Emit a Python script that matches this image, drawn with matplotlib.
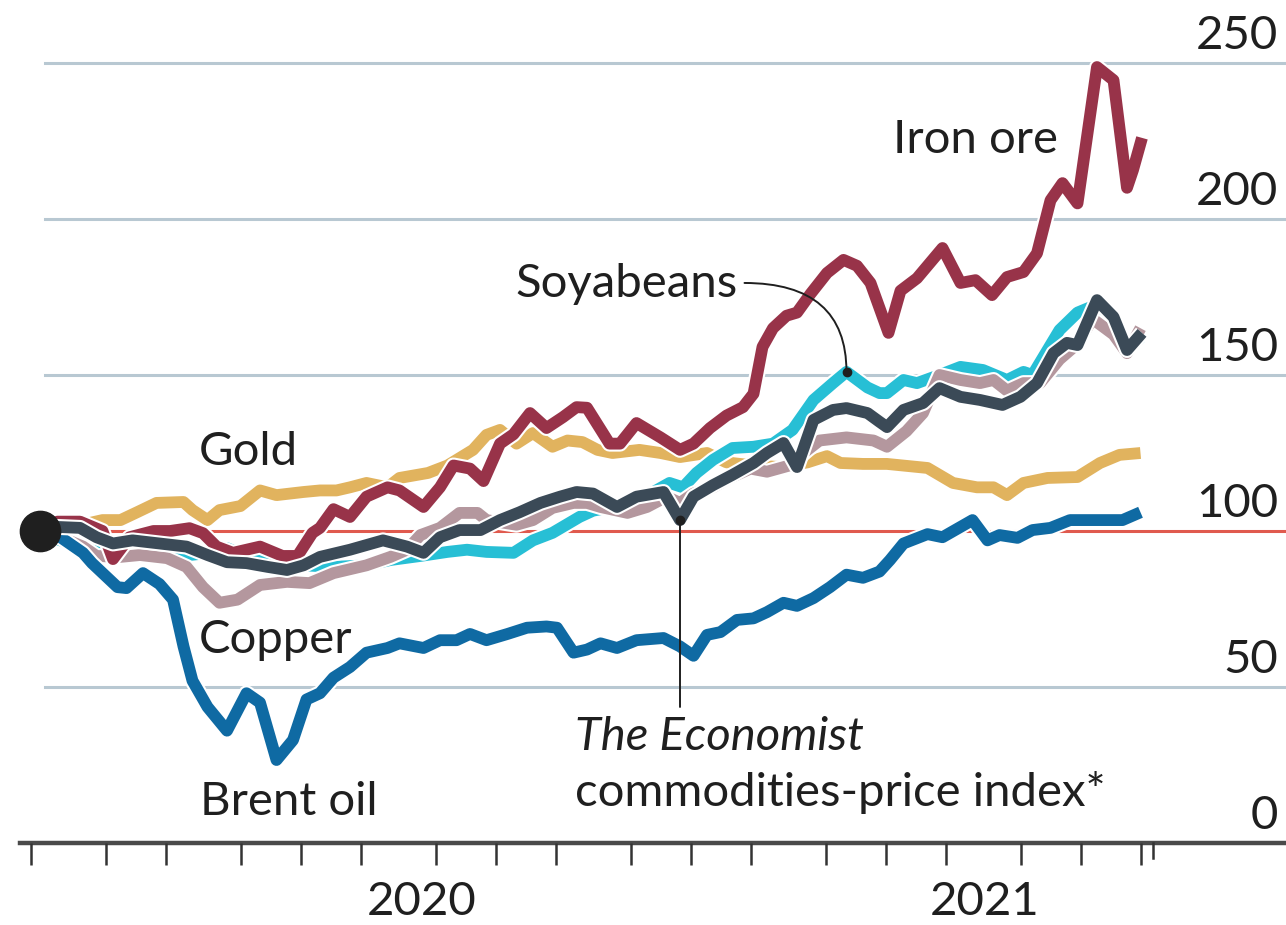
import matplotlib.pyplot as plt
from matplotlib import patheffects as pe
from matplotlib import transforms

# weeks since the start of January 2020, rebased to 100 at the first reading
brent_weeks = [0.6, 2.0, 3.5, 4.1, 5.8, 6.4, 7.5, 8.6, 9.5, 10.2, 10.8, 11.8, 13.1, 14.4, 15.3,
               16.4, 17.5, 18.4, 19.3, 20.2, 21.3, 22.4, 23.8, 24.6, 26.2, 27.3, 28.4, 29.3,
               30.4, 31.8, 33.1, 34.4, 35.1, 36.2, 37.1, 38.0, 39.1, 40.4, 42.2, 43.3, 44.2,
               45.1, 46.0, 47.1, 48.2, 49.1, 50.2, 51.1, 52.2, 53.3, 54.4, 55.5, 56.6, 57.3,
               58.2, 59.8, 60.8, 62.8, 63.8, 64.6, 65.8, 66.8, 68.0, 69.3, 70.8, 72.8, 74.0]
brent_vals = [100, 98, 93, 89.7, 82, 81.7, 86.5, 83, 78, 63, 52, 43.6, 36, 48, 45,
              26.6, 33, 46, 48, 53, 56.4, 61, 62.5, 64, 62.5, 65, 65, 67,
              65, 67, 69, 69.4, 69, 61, 62, 64, 62.5, 65, 65.7, 63, 60,
              66.7, 67.6, 71.5, 72, 74, 77, 76, 78.5, 82, 86, 85, 87, 90.7,
              96, 99, 98, 103.5, 97, 98.7, 97.8, 100.3, 101, 103.5, 103.5, 103.5, 106]

gold_weeks = [0.6, 2.5, 4.8, 6.0, 7.1, 8.4, 10.2, 10.8, 11.8, 12.6, 14.0, 15.3, 16.4, 18.2,
              19.3, 20.4, 21.3, 22.4, 23.8, 24.6, 26.5, 27.8, 29.5, 30.4, 31.3, 32.4, 33.5,
              34.8, 35.8, 36.8, 37.8, 38.8, 40.6, 42.0, 43.3, 45.1, 46.4, 48.2, 50.0, 51.8,
              53.1, 54.0, 55.5, 57.1, 59.8, 61.5, 63.1, 64.2, 65.1, 66.2, 67.8, 69.8, 71.3,
              72.6, 74.0]
gold_vals = [100, 101, 103.5, 103.5, 106, 109, 109.3, 106.7, 103.5, 106.7, 108, 113, 111.5, 112.5,
             113, 113, 114, 115.4, 114, 117, 118.6, 121, 126, 130.8, 132.4, 128, 131.4,
             127, 129, 128.5, 126, 125, 126, 125, 123.7, 125, 122, 121, 120.5, 122,
             124, 121.8, 121.5, 121.5, 120.2, 115.4, 114, 114, 111.5, 115.4, 117, 117.3, 121.8,
             124.4, 125]

copper_weeks = [0.6, 2.0, 3.5, 4.4, 6.0, 7.3, 9.1, 10.4, 11.5, 12.6, 13.8, 15.3, 17.1, 18.6,
                20.2, 22.4, 24.0, 25.1, 26.0, 27.3, 28.6, 29.8, 30.4, 32.4, 33.5, 34.8, 36.2,
                37.1, 38.0, 39.8, 41.1, 42.4, 43.3, 44.2, 45.5, 46.6, 48.0, 49.1, 50.6, 51.8,
                52.6, 54.4, 56.2, 57.1, 58.4, 59.5, 60.6, 62.0, 63.3, 64.2, 65.1, 66.2, 67.3,
                68.6, 69.8, 70.8, 72.2, 73.1, 74.0]
copper_vals = [100, 98, 95, 92, 91.7, 92.3, 91.3, 88.5, 82, 77, 78, 82.7, 83.7, 83.3,
               86.5, 89, 91.7, 94, 98.7, 101, 105.8, 105.8, 103.5, 102, 103.5, 107.4, 109,
               109, 107.7, 105.8, 107.7, 111, 109, 112, 114, 117, 120, 119, 121, 126,
               129, 130, 129, 127, 132, 137.8, 150, 148.4, 147.4, 148.4, 145, 147.4, 147.4,
               155, 160, 168, 163, 157, 165]

soy_weeks = [0.6, 2.0, 4.0, 6.0, 8.0, 10.0, 12.0, 13.1, 14.4, 16.4, 18.2, 20.2, 22.4, 24.0,
             26.0, 27.8, 29.1, 30.4, 32.2, 33.5, 34.8, 36.6, 37.5, 39.1, 40.6, 42.6, 43.5,
             44.4, 45.5, 46.8, 48.2, 49.5, 50.8, 52.2, 53.5, 54.4, 55.8, 56.6, 57.1, 58.2,
             59.1, 60.6, 62.0, 63.5, 65.1, 66.2, 66.8, 68.6, 69.8, 70.8, 72.2, 73.1, 74.0]
soy_vals = [100, 97, 94, 93, 92, 92, 93, 94.5, 92, 90, 89, 88.5, 89, 90.7,
            92, 93.3, 94, 93.3, 93, 97, 99.4, 104.5, 106.5, 108, 110, 115.4, 114,
            118.6, 122.8, 126.6, 127, 128, 132.4, 142, 147.4, 151, 146, 144.2, 144.2, 148.4,
            147.4, 150, 152.6, 151.6, 148.4, 151, 150, 164.4, 170, 172, 164, 158, 162]

iron_weeks = [0.6, 1.8, 3.3, 4.8, 5.5, 6.6, 8.2, 9.3, 10.6, 11.5, 12.4, 13.5, 15.3, 16.8,
              17.8, 18.8, 19.3, 20.2, 21.3, 22.4, 23.8, 24.6, 26.2, 27.3, 28.2, 29.3, 30.2,
              31.3, 32.2, 33.3, 34.4, 35.5, 36.4, 37.1, 38.6, 39.3, 40.4, 42.0, 43.3, 44.2,
              45.3, 46.4, 47.5, 48.2, 48.8, 49.5, 50.4, 51.1, 52.0, 53.1, 54.2, 55.1, 56.0,
              57.2, 58.0, 59.1, 60.8, 62.0, 63.0, 64.1, 65.1, 66.2, 67.1, 68.0, 68.8, 69.8,
              71.1, 72.2, 73.1, 73.5, 74.1]
iron_vals = [100, 103, 103, 100, 91, 98, 100, 100, 100.9, 99.3, 95, 93, 95, 92,
             92, 99.4, 101, 107, 104.5, 111, 114, 113, 107.7, 114, 121, 120, 116,
             128, 131, 137.8, 133, 136.5, 139.7, 139.5, 128, 128, 134.6, 130, 126, 128,
             133, 137, 139.7, 144, 159, 165, 169, 170, 176, 182.7, 186.9, 185, 179.5,
             163.5, 177, 181, 190.7, 179.5, 180.4, 175.6, 181.4, 183, 189, 206, 211.5, 205,
             248.7, 244.5, 210, 215.7, 226]

index_weeks = [0.6, 1.8, 3.3, 4.4, 5.5, 6.8, 8.6, 10.4, 11.8, 13.1, 14.4, 15.8, 17.1, 18.2,
               19.3, 21.3, 23.5, 25.1, 26.2, 27.3, 28.6, 30.0, 31.3, 32.6, 34.0, 35.3, 36.4,
               37.5, 39.1, 40.4, 42.2, 43.3, 44.2, 45.5, 46.8, 48.2, 49.1, 50.2, 51.1, 52.2,
               53.5, 54.4, 55.8, 56.6, 57.1, 58.2, 59.5, 60.6, 62.0, 63.3, 64.8, 66.0, 67.1,
               68.2, 69.1, 69.8, 71.1, 72.2, 73.1, 74.1]
index_vals = [100, 101.3, 101, 98, 96, 97, 96, 95, 92.3, 90, 89.7, 88.5, 87.5, 89,
              91.7, 94, 97, 95, 93, 98, 100.3, 100.3, 103.5, 106, 109, 111, 112.5,
              112, 107.7, 111, 112.5, 103.5, 111, 114.7, 118, 121.8, 125, 128.2, 120.5, 135.6,
              138.8, 139.4, 137.8, 135, 133.3, 138.8, 141, 145.8, 143, 142, 140.4, 143, 147.4,
              157, 160.3, 159.6, 174, 168.6, 158, 163.5]

month_ticks = [0, 5, 9, 14, 18, 22, 27, 31, 35, 40, 44, 48, 53, 57, 61, 66, 70, 74]
year_ticks = [0, 53]
year_labels = ['2020', '2021']
year_label_weeks = [26.1, 63.6]
y_labels = [0, 50, 100, 150, 200, 250]

ink = '#1f1f1f'
plt.rcParams['font.family'] = ['Lato', 'DejaVu Sans']
plt.rcParams['font.size'] = 34

fig = plt.figure(figsize=(12.86, 9.25), dpi=100)
ax = fig.add_axes([0, 82 / 925, 1, 843 / 925])
ax.set_xlim(-30.5 / 15, (1286 - 30.5) / 15)
ax.set_ylim(0, 843 / 3.12)
for s in ax.spines.values():
    s.set_visible(False)

# grid and baselines
for v in [50, 150, 200, 250]:
    ax.axhline(v, xmin=45 / 1286, color='#b8c8d2', lw=2.2, zorder=0)
ax.axhline(100, xmin=45 / 1286, color='#e05a4e', lw=2.2, zorder=0.5)
ax.axhline(0, xmin=20 / 1286, color='#4a4a4a', lw=3.2, zorder=1, clip_on=False)

outline = [pe.Stroke(linewidth=11.5, foreground='white'), pe.Normal()]
series = [
    (gold_weeks, gold_vals, '#e1b35e', 2),
    (soy_weeks, soy_vals, '#27bfd5', 3),
    (copper_weeks, copper_vals, '#b4979e', 4),
    (brent_weeks, brent_vals, '#0f6aa3', 5),
    (iron_weeks, iron_vals, '#983349', 6),
    (index_weeks, index_vals, '#3b4a57', 7),
]
for w, v, c, z in series:
    ax.plot(w, v, color=c, lw=8.5, zorder=z, solid_joinstyle='round',
            solid_capstyle='butt', path_effects=outline)

ax.plot(index_weeks[0], index_vals[0], 'o', ms=29, color=ink, zorder=10)

# x axis ticks
ax.set_xticks(month_ticks)
ax.set_xticks(year_ticks, minor=True)
ax.set_xticklabels([])
ax.tick_params(axis='x', which='major', direction='out', length=16, width=1.8, color='#333333')
ax.tick_params(axis='x', which='minor', direction='out', length=30, width=1.8, color='#333333')
ax.axvline(74.8, ymin=-15 / 843, ymax=0, color='#333333', lw=1.8, clip_on=False)
ax.set_yticks([])
for lab, wk in zip(year_labels, year_label_weeks):
    ax.text(wk, -25.8, lab, ha='center', va='bottom', color=ink, clip_on=False)

# y labels on the right, sitting above their gridlines
trans = transforms.blended_transform_factory(ax.transAxes, ax.transData)
for v in y_labels:
    ax.text(0.994, v + 2, str(v), transform=trans, ha='right', va='bottom', color=ink)

# series labels
ax.text(11.2, 121.2, 'Gold', ha='left', va='baseline', color=ink)
ax.text(11.2, 60.9, 'Copper', ha='left', va='baseline', color=ink)
ax.text(11.3, 9.0, 'Brent oil', ha='left', va='baseline', color=ink)
ax.text(57.5, 221.2, 'Iron ore', ha='left', va='baseline', color=ink)
ax.text(32.3, 175, 'Soyabeans', ha='left', va='baseline', color=ink)
ax.text(36.3, 29.8, 'The Economist', ha='left', va='baseline', color=ink, fontstyle='italic')
ax.text(36.3, 11.9, 'commodities-price index*', ha='left', va='baseline', color=ink)

# callouts
k = soy_weeks.index(54.4)
sx, sy = soy_weeks[k], soy_vals[k]
ax.annotate('', xy=(sx, sy), xytext=(47.6, 179.5),
            arrowprops=dict(arrowstyle='-', color=ink, lw=1.4, shrinkA=0, shrinkB=0,
                            connectionstyle='angle3,angleA=0,angleB=90'), zorder=11)
ax.plot(sx, sy, 'o', ms=6, color=ink, zorder=12)

j = index_weeks.index(43.3)
ix, iy = index_weeks[j], index_vals[j]
ax.annotate('', xy=(ix, iy), xytext=(ix, 43.6),
            arrowprops=dict(arrowstyle='-', color=ink, lw=1.4, shrinkA=0, shrinkB=0), zorder=11)
ax.plot(ix, iy, 'o', ms=6, color=ink, zorder=12)

fig.savefig('out.png', dpi=100, facecolor='white')
